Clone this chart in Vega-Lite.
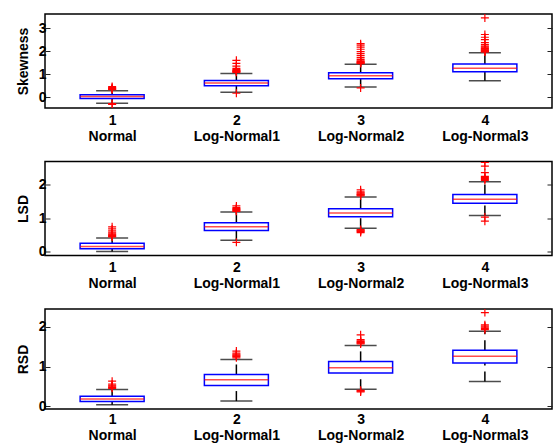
{
  "$schema": "https://vega.github.io/schema/vega-lite/v6.json",
  "padding": {"left": 15, "top": 13, "right": 0, "bottom": 0},
  "background": "white",
  "bounds": "flush",
  "spacing": 53.5,
  "config": {
    "font": "Liberation Sans",
    "view": {"stroke": "black", "strokeWidth": 1.5},
    "axis": {
      "labelFont": "Liberation Sans", "labelFontSize": 14, "labelFontWeight": "bold", "labelColor": "black",
      "titleFont": "Liberation Sans", "titleFontSize": 14, "titleFontWeight": "bold", "titleColor": "black",
      "grid": false, "domain": false, "tickColor": "#222", "tickWidth": 1
    }
  },
  "datasets": {
    "stats": [
      {"m": "Skewness", "g": 1, "lo": -0.26, "q1": -0.06, "med": 0.03, "q3": 0.11, "hi": 0.28},
      {"m": "Skewness", "g": 2, "lo": 0.21, "q1": 0.5, "med": 0.61, "q3": 0.72, "hi": 1.03},
      {"m": "Skewness", "g": 3, "lo": 0.44, "q1": 0.8, "med": 0.93, "q3": 1.06, "hi": 1.43},
      {"m": "Skewness", "g": 4, "lo": 0.71, "q1": 1.1, "med": 1.25, "q3": 1.44, "hi": 1.93},
      {"m": "LSD", "g": 1, "lo": 0.01, "q1": 0.09, "med": 0.16, "q3": 0.25, "hi": 0.41},
      {"m": "LSD", "g": 2, "lo": 0.34, "q1": 0.63, "med": 0.74, "q3": 0.86, "hi": 1.18},
      {"m": "LSD", "g": 3, "lo": 0.7, "q1": 1.04, "med": 1.15, "q3": 1.28, "hi": 1.63},
      {"m": "LSD", "g": 4, "lo": 1.08, "q1": 1.44, "med": 1.56, "q3": 1.7, "hi": 2.08},
      {"m": "RSD", "g": 1, "lo": 0.04, "q1": 0.12, "med": 0.18, "q3": 0.25, "hi": 0.42},
      {"m": "RSD", "g": 2, "lo": 0.13, "q1": 0.52, "med": 0.67, "q3": 0.8, "hi": 1.18},
      {"m": "RSD", "g": 3, "lo": 0.43, "q1": 0.84, "med": 0.97, "q3": 1.13, "hi": 1.53},
      {"m": "RSD", "g": 4, "lo": 0.62, "q1": 1.09, "med": 1.26, "q3": 1.41, "hi": 1.89}
    ],
    "out": [
      {"m": "Skewness", "g": 1, "v": 0.33}, {"m": "Skewness", "g": 1, "v": 0.35}, {"m": "Skewness", "g": 1, "v": 0.37},
      {"m": "Skewness", "g": 1, "v": 0.39}, {"m": "Skewness", "g": 1, "v": 0.42}, {"m": "Skewness", "g": 1, "v": 0.46},
      {"m": "Skewness", "g": 1, "v": -0.28}, {"m": "Skewness", "g": 1, "v": -0.31},
      {"m": "Skewness", "g": 2, "v": 1.08}, {"m": "Skewness", "g": 2, "v": 1.1}, {"m": "Skewness", "g": 2, "v": 1.12},
      {"m": "Skewness", "g": 2, "v": 1.14}, {"m": "Skewness", "g": 2, "v": 1.16}, {"m": "Skewness", "g": 2, "v": 1.2},
      {"m": "Skewness", "g": 2, "v": 1.25}, {"m": "Skewness", "g": 2, "v": 1.35}, {"m": "Skewness", "g": 2, "v": 1.47},
      {"m": "Skewness", "g": 2, "v": 1.6}, {"m": "Skewness", "g": 2, "v": 0.17},
      {"m": "Skewness", "g": 3, "v": 1.46}, {"m": "Skewness", "g": 3, "v": 1.48}, {"m": "Skewness", "g": 3, "v": 1.5},
      {"m": "Skewness", "g": 3, "v": 1.52}, {"m": "Skewness", "g": 3, "v": 1.55}, {"m": "Skewness", "g": 3, "v": 1.58},
      {"m": "Skewness", "g": 3, "v": 1.64}, {"m": "Skewness", "g": 3, "v": 1.72}, {"m": "Skewness", "g": 3, "v": 1.8},
      {"m": "Skewness", "g": 3, "v": 1.89}, {"m": "Skewness", "g": 3, "v": 1.98}, {"m": "Skewness", "g": 3, "v": 2.08},
      {"m": "Skewness", "g": 3, "v": 2.17}, {"m": "Skewness", "g": 3, "v": 2.26}, {"m": "Skewness", "g": 3, "v": 2.32},
      {"m": "Skewness", "g": 3, "v": 0.4},
      {"m": "Skewness", "g": 4, "v": 1.96}, {"m": "Skewness", "g": 4, "v": 1.98}, {"m": "Skewness", "g": 4, "v": 2.0},
      {"m": "Skewness", "g": 4, "v": 2.02}, {"m": "Skewness", "g": 4, "v": 2.05}, {"m": "Skewness", "g": 4, "v": 2.08},
      {"m": "Skewness", "g": 4, "v": 2.11}, {"m": "Skewness", "g": 4, "v": 2.14}, {"m": "Skewness", "g": 4, "v": 2.18},
      {"m": "Skewness", "g": 4, "v": 2.22}, {"m": "Skewness", "g": 4, "v": 2.28}, {"m": "Skewness", "g": 4, "v": 2.37},
      {"m": "Skewness", "g": 4, "v": 2.5}, {"m": "Skewness", "g": 4, "v": 2.6}, {"m": "Skewness", "g": 4, "v": 2.72},
      {"m": "Skewness", "g": 4, "v": 3.44},
      {"m": "LSD", "g": 1, "v": 0.44}, {"m": "LSD", "g": 1, "v": 0.46}, {"m": "LSD", "g": 1, "v": 0.48},
      {"m": "LSD", "g": 1, "v": 0.5}, {"m": "LSD", "g": 1, "v": 0.52}, {"m": "LSD", "g": 1, "v": 0.55},
      {"m": "LSD", "g": 1, "v": 0.58}, {"m": "LSD", "g": 1, "v": 0.62}, {"m": "LSD", "g": 1, "v": 0.68},
      {"m": "LSD", "g": 1, "v": 0.74},
      {"m": "LSD", "g": 2, "v": 1.2}, {"m": "LSD", "g": 2, "v": 1.22}, {"m": "LSD", "g": 2, "v": 1.24},
      {"m": "LSD", "g": 2, "v": 1.26}, {"m": "LSD", "g": 2, "v": 1.28}, {"m": "LSD", "g": 2, "v": 1.31},
      {"m": "LSD", "g": 2, "v": 1.36}, {"m": "LSD", "g": 2, "v": 0.28},
      {"m": "LSD", "g": 3, "v": 1.66}, {"m": "LSD", "g": 3, "v": 1.68}, {"m": "LSD", "g": 3, "v": 1.7},
      {"m": "LSD", "g": 3, "v": 1.72}, {"m": "LSD", "g": 3, "v": 1.75}, {"m": "LSD", "g": 3, "v": 1.78},
      {"m": "LSD", "g": 3, "v": 1.84}, {"m": "LSD", "g": 3, "v": 0.66}, {"m": "LSD", "g": 3, "v": 0.64},
      {"m": "LSD", "g": 3, "v": 0.62}, {"m": "LSD", "g": 3, "v": 0.6}, {"m": "LSD", "g": 3, "v": 0.57},
      {"m": "LSD", "g": 4, "v": 2.12}, {"m": "LSD", "g": 4, "v": 2.15}, {"m": "LSD", "g": 4, "v": 2.18},
      {"m": "LSD", "g": 4, "v": 2.21}, {"m": "LSD", "g": 4, "v": 2.24}, {"m": "LSD", "g": 4, "v": 2.35},
      {"m": "LSD", "g": 4, "v": 2.54}, {"m": "LSD", "g": 4, "v": 2.65}, {"m": "LSD", "g": 4, "v": 1.03},
      {"m": "LSD", "g": 4, "v": 0.91},
      {"m": "RSD", "g": 1, "v": 0.45}, {"m": "RSD", "g": 1, "v": 0.47}, {"m": "RSD", "g": 1, "v": 0.49},
      {"m": "RSD", "g": 1, "v": 0.51}, {"m": "RSD", "g": 1, "v": 0.53}, {"m": "RSD", "g": 1, "v": 0.56},
      {"m": "RSD", "g": 1, "v": 0.63},
      {"m": "RSD", "g": 2, "v": 1.22}, {"m": "RSD", "g": 2, "v": 1.25}, {"m": "RSD", "g": 2, "v": 1.27},
      {"m": "RSD", "g": 2, "v": 1.29}, {"m": "RSD", "g": 2, "v": 1.31}, {"m": "RSD", "g": 2, "v": 1.34},
      {"m": "RSD", "g": 2, "v": 1.39},
      {"m": "RSD", "g": 3, "v": 1.57}, {"m": "RSD", "g": 3, "v": 1.59}, {"m": "RSD", "g": 3, "v": 1.61},
      {"m": "RSD", "g": 3, "v": 1.63}, {"m": "RSD", "g": 3, "v": 1.65}, {"m": "RSD", "g": 3, "v": 1.68},
      {"m": "RSD", "g": 3, "v": 1.8}, {"m": "RSD", "g": 3, "v": 0.4}, {"m": "RSD", "g": 3, "v": 0.38},
      {"m": "RSD", "g": 3, "v": 0.36},
      {"m": "RSD", "g": 4, "v": 1.93}, {"m": "RSD", "g": 4, "v": 1.96}, {"m": "RSD", "g": 4, "v": 1.99},
      {"m": "RSD", "g": 4, "v": 2.02}, {"m": "RSD", "g": 4, "v": 2.05}, {"m": "RSD", "g": 4, "v": 2.36}
    ]
  },
  "vconcat": [
    {
      "width": 507, "height": 94,
      "encoding": {"x": {"field": "g", "type": "quantitative", "scale": {"domain": [0.5, 4.5], "nice": false, "zero": false},
        "axis": {"orient": "bottom", "values": [1, 2, 3, 4], "ticks": false, "title": null, "labelPadding": 5, "labelLineHeight": 16, "labelBaseline": "top", "labelFlush": false, "labelOverlap": false,
          "labelExpr": "[datum.label, ['Normal','Log-Normal1','Log-Normal2','Log-Normal3'][datum.value - 1]]"}}},
      "layer": [
        {"data": {"name": "stats"}, "transform": [{"filter": "datum.m === 'Skewness'"}],
          "mark": {"type": "rule", "color": "black", "strokeWidth": 1.5, "strokeDash": [10, 6]},
          "encoding": {"y": {"field": "lo", "type": "quantitative", "scale": {"domain": [-0.47, 3.61], "nice": false, "zero": false},
            "axis": {"orient": "left", "values": [0, 1, 2, 3], "tickSize": -5, "labelPadding": 4, "title": "Skewness", "titlePadding": 8}}, "y2": {"field": "q1"}}},
        {"data": {"name": "stats"}, "transform": [{"filter": "datum.m === 'Skewness'"}],
          "mark": {"type": "rule", "color": "black", "strokeWidth": 1.5, "strokeDash": [10, 6]},
          "encoding": {"y": {"field": "q3", "type": "quantitative", "scale": {"domain": [-0.47, 3.61], "nice": false, "zero": false},
            "axis": {"orient": "right", "values": [0, 1, 2, 3], "tickSize": -5, "labels": false, "title": null}}, "y2": {"field": "hi"}}},
        {"data": {"name": "stats"}, "transform": [{"filter": "datum.m === 'Skewness'"}],
          "mark": {"type": "tick", "orient": "horizontal", "size": 32, "thickness": 1.5, "color": "black"},
          "encoding": {"y": {"field": "lo", "type": "quantitative", "scale": {"domain": [-0.47, 3.61], "nice": false, "zero": false}, "axis": null}}},
        {"data": {"name": "stats"}, "transform": [{"filter": "datum.m === 'Skewness'"}],
          "mark": {"type": "tick", "orient": "horizontal", "size": 32, "thickness": 1.5, "color": "black"},
          "encoding": {"y": {"field": "hi", "type": "quantitative", "scale": {"domain": [-0.47, 3.61], "nice": false, "zero": false}, "axis": null}}},
        {"data": {"name": "stats"}, "transform": [{"filter": "datum.m === 'Skewness'"}],
          "mark": {"type": "bar", "size": 64, "fill": "transparent", "stroke": "#0000ff", "strokeWidth": 1.5},
          "encoding": {"y": {"field": "q1", "type": "quantitative", "scale": {"domain": [-0.47, 3.61], "nice": false, "zero": false}, "axis": null}, "y2": {"field": "q3"}}},
        {"data": {"name": "stats"}, "transform": [{"filter": "datum.m === 'Skewness'"}],
          "mark": {"type": "tick", "orient": "horizontal", "size": 64, "thickness": 1.5, "color": "#ff0000"},
          "encoding": {"y": {"field": "med", "type": "quantitative", "scale": {"domain": [-0.47, 3.61], "nice": false, "zero": false}, "axis": null}}},
        {"data": {"name": "out"}, "transform": [{"filter": "datum.m === 'Skewness'"}],
          "mark": {"type": "point", "shape": "M-1,0L1,0M0,-1L0,1", "size": 64, "filled": false, "color": "#ff0000", "strokeWidth": 1.2, "opacity": 1, "clip": true},
          "encoding": {"y": {"field": "v", "type": "quantitative", "scale": {"domain": [-0.47, 3.61], "nice": false, "zero": false}, "axis": null}}}
      ],
      "resolve": {"axis": {"y": "independent"}}
    },
    {
      "width": 507, "height": 94,
      "encoding": {"x": {"field": "g", "type": "quantitative", "scale": {"domain": [0.5, 4.5], "nice": false, "zero": false},
        "axis": {"orient": "bottom", "values": [1, 2, 3, 4], "ticks": false, "title": null, "labelPadding": 5, "labelLineHeight": 16, "labelBaseline": "top", "labelFlush": false, "labelOverlap": false,
          "labelExpr": "[datum.label, ['Normal','Log-Normal1','Log-Normal2','Log-Normal3'][datum.value - 1]]"}}},
      "layer": [
        {"data": {"name": "stats"}, "transform": [{"filter": "datum.m === 'LSD'"}],
          "mark": {"type": "rule", "color": "black", "strokeWidth": 1.5, "strokeDash": [10, 6]},
          "encoding": {"y": {"field": "lo", "type": "quantitative", "scale": {"domain": [-0.11, 2.68], "nice": false, "zero": false},
            "axis": {"orient": "left", "values": [0, 1, 2], "tickSize": -5, "labelPadding": 4, "title": "LSD", "titlePadding": 8}}, "y2": {"field": "q1"}}},
        {"data": {"name": "stats"}, "transform": [{"filter": "datum.m === 'LSD'"}],
          "mark": {"type": "rule", "color": "black", "strokeWidth": 1.5, "strokeDash": [10, 6]},
          "encoding": {"y": {"field": "q3", "type": "quantitative", "scale": {"domain": [-0.11, 2.68], "nice": false, "zero": false},
            "axis": {"orient": "right", "values": [0, 1, 2], "tickSize": -5, "labels": false, "title": null}}, "y2": {"field": "hi"}}},
        {"data": {"name": "stats"}, "transform": [{"filter": "datum.m === 'LSD'"}],
          "mark": {"type": "tick", "orient": "horizontal", "size": 32, "thickness": 1.5, "color": "black"},
          "encoding": {"y": {"field": "lo", "type": "quantitative", "scale": {"domain": [-0.11, 2.68], "nice": false, "zero": false}, "axis": null}}},
        {"data": {"name": "stats"}, "transform": [{"filter": "datum.m === 'LSD'"}],
          "mark": {"type": "tick", "orient": "horizontal", "size": 32, "thickness": 1.5, "color": "black"},
          "encoding": {"y": {"field": "hi", "type": "quantitative", "scale": {"domain": [-0.11, 2.68], "nice": false, "zero": false}, "axis": null}}},
        {"data": {"name": "stats"}, "transform": [{"filter": "datum.m === 'LSD'"}],
          "mark": {"type": "bar", "size": 64, "fill": "transparent", "stroke": "#0000ff", "strokeWidth": 1.5},
          "encoding": {"y": {"field": "q1", "type": "quantitative", "scale": {"domain": [-0.11, 2.68], "nice": false, "zero": false}, "axis": null}, "y2": {"field": "q3"}}},
        {"data": {"name": "stats"}, "transform": [{"filter": "datum.m === 'LSD'"}],
          "mark": {"type": "tick", "orient": "horizontal", "size": 64, "thickness": 1.5, "color": "#ff0000"},
          "encoding": {"y": {"field": "med", "type": "quantitative", "scale": {"domain": [-0.11, 2.68], "nice": false, "zero": false}, "axis": null}}},
        {"data": {"name": "out"}, "transform": [{"filter": "datum.m === 'LSD'"}],
          "mark": {"type": "point", "shape": "M-1,0L1,0M0,-1L0,1", "size": 64, "filled": false, "color": "#ff0000", "strokeWidth": 1.2, "opacity": 1, "clip": true},
          "encoding": {"y": {"field": "v", "type": "quantitative", "scale": {"domain": [-0.11, 2.68], "nice": false, "zero": false}, "axis": null}}}
      ],
      "resolve": {"axis": {"y": "independent"}}
    },
    {
      "width": 507, "height": 100,
      "encoding": {"x": {"field": "g", "type": "quantitative", "scale": {"domain": [0.5, 4.5], "nice": false, "zero": false},
        "axis": {"orient": "bottom", "values": [1, 2, 3, 4], "ticks": false, "title": null, "labelPadding": 3, "labelLineHeight": 16, "labelBaseline": "top", "labelFlush": false, "labelOverlap": false,
          "labelExpr": "[datum.label, ['Normal','Log-Normal1','Log-Normal2','Log-Normal3'][datum.value - 1]]"}}},
      "layer": [
        {"data": {"name": "stats"}, "transform": [{"filter": "datum.m === 'RSD'"}],
          "mark": {"type": "rule", "color": "black", "strokeWidth": 1.5, "strokeDash": [10, 6]},
          "encoding": {"y": {"field": "lo", "type": "quantitative", "scale": {"domain": [-0.07, 2.45], "nice": false, "zero": false},
            "axis": {"orient": "left", "values": [0, 1, 2], "tickSize": -5, "labelPadding": 4, "title": "RSD", "titlePadding": 8}}, "y2": {"field": "q1"}}},
        {"data": {"name": "stats"}, "transform": [{"filter": "datum.m === 'RSD'"}],
          "mark": {"type": "rule", "color": "black", "strokeWidth": 1.5, "strokeDash": [10, 6]},
          "encoding": {"y": {"field": "q3", "type": "quantitative", "scale": {"domain": [-0.07, 2.45], "nice": false, "zero": false},
            "axis": {"orient": "right", "values": [0, 1, 2], "tickSize": -5, "labels": false, "title": null}}, "y2": {"field": "hi"}}},
        {"data": {"name": "stats"}, "transform": [{"filter": "datum.m === 'RSD'"}],
          "mark": {"type": "tick", "orient": "horizontal", "size": 32, "thickness": 1.5, "color": "black"},
          "encoding": {"y": {"field": "lo", "type": "quantitative", "scale": {"domain": [-0.07, 2.45], "nice": false, "zero": false}, "axis": null}}},
        {"data": {"name": "stats"}, "transform": [{"filter": "datum.m === 'RSD'"}],
          "mark": {"type": "tick", "orient": "horizontal", "size": 32, "thickness": 1.5, "color": "black"},
          "encoding": {"y": {"field": "hi", "type": "quantitative", "scale": {"domain": [-0.07, 2.45], "nice": false, "zero": false}, "axis": null}}},
        {"data": {"name": "stats"}, "transform": [{"filter": "datum.m === 'RSD'"}],
          "mark": {"type": "bar", "size": 64, "fill": "transparent", "stroke": "#0000ff", "strokeWidth": 1.5},
          "encoding": {"y": {"field": "q1", "type": "quantitative", "scale": {"domain": [-0.07, 2.45], "nice": false, "zero": false}, "axis": null}, "y2": {"field": "q3"}}},
        {"data": {"name": "stats"}, "transform": [{"filter": "datum.m === 'RSD'"}],
          "mark": {"type": "tick", "orient": "horizontal", "size": 64, "thickness": 1.5, "color": "#ff0000"},
          "encoding": {"y": {"field": "med", "type": "quantitative", "scale": {"domain": [-0.07, 2.45], "nice": false, "zero": false}, "axis": null}}},
        {"data": {"name": "out"}, "transform": [{"filter": "datum.m === 'RSD'"}],
          "mark": {"type": "point", "shape": "M-1,0L1,0M0,-1L0,1", "size": 64, "filled": false, "color": "#ff0000", "strokeWidth": 1.2, "opacity": 1, "clip": true},
          "encoding": {"y": {"field": "v", "type": "quantitative", "scale": {"domain": [-0.07, 2.45], "nice": false, "zero": false}, "axis": null}}}
      ],
      "resolve": {"axis": {"y": "independent"}}
    }
  ]
}
